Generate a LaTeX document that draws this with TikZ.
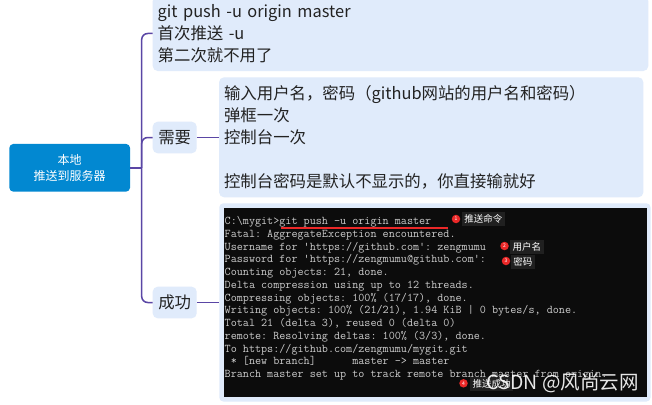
\documentclass[tikz,border=0pt]{standalone}
\usepackage{fontspec}
\setmainfont{Noto Sans CJK SC}
\definecolor{rootblue}{RGB}{2,136,209}
\definecolor{boxblue}{RGB}{224,235,251}
\definecolor{conncol}{RGB}{90,70,165}
\definecolor{txt}{RGB}{34,34,34}
\definecolor{scrbg}{RGB}{12,12,12}
\definecolor{termtxt}{RGB}{204,204,204}
\definecolor{mred}{RGB}{235,40,40}
\definecolor{lblbg}{RGB}{32,32,32}
\begin{document}
\begin{tikzpicture}[x=1pt,y=-1pt,
  box/.style={fill=boxblue, rounded corners=5pt, inner ysep=0pt, text=txt, align=left, font=\fontsize{16.4}{21.9}\selectfont},
  conn/.style={draw=conncol, line width=1.5pt, rounded corners=6pt},
  termline/.style={anchor=base west, inner sep=0pt, text=termtxt, font=\ttfamily\fontsize{11.8}{12.75}\selectfont\frenchspacing},
  marker/.style={circle, fill=mred, minimum size=8.5pt, inner sep=0pt, text=white, font=\fontsize{5}{5}\selectfont},
  lbl/.style={fill=lblbg, text=white, inner xsep=2.5pt, inner ysep=0pt, minimum height=14pt, anchor=west, font=\fontsize{9.5}{9.5}\selectfont}
]
\useasboundingbox (0,0) rectangle (652,404);
\fill[white] (0,0) rectangle (652,404);
\clip (0,0) rectangle (652,404);

\node[fill=rootblue, rounded corners=4pt, text=white, minimum width=120.7pt, minimum height=47.7pt, inner sep=0pt, align=center, font=\fontsize{12}{16}\selectfont] (root) at (69.7,167.8) {本地\\推送到服务器};

\node[box, minimum width=495.6pt, minimum height=75pt, text width=485.6pt, inner xsep=5pt] (top) at (400.5,33.5) {git push -u origin master\\首次推送 -u\\第二次就不用了};

\node[box, minimum width=44pt, minimum height=31.6pt, inner xsep=0pt, align=center] (need) at (174.7,137.5) {需要};

\node[box, minimum width=424.3pt, minimum height=120pt, text width=414.3pt, inner xsep=5pt] (mid) at (431.2,137.3) {输入用户名，密码（github网站的用户名和密码）\\弹框一次\\控制台一次\\\mbox{}\\控制台密码是默认不显示的，你直接输就好};

\node[box, minimum width=44pt, minimum height=31.6pt, inner xsep=0pt, align=center] (succ) at (174.7,302.5) {成功};

\node[fill=boxblue, rounded corners=4pt, minimum width=431.2pt, minimum height=198.2pt, inner sep=0pt] (term) at (434.9,302.4) {};
\node[fill=scrbg, minimum width=422.5pt, minimum height=188.4pt, inner sep=0pt] (screen) at (435.25,302.5) {};

\foreach \t [count=\i] in {
  {C:\textbackslash mygit>git push -u origin master},
  {Fatal: AggregateException encountered.},
  {Username for 'https://github.com': zengmumu},
  {Password for 'https://zengmumu@github.com':},
  {Counting objects: 21, done.},
  {Delta compression using up to 12 threads.},
  {Compressing objects: 100\% (17/17), done.},
  {Writing objects: 100\% (21/21), 1.94 KiB | 0 bytes/s, done.},
  {Total 21 (delta 3), reused 0 (delta 0)},
  {remote: Resolving deltas: 100\% (3/3), done.},
  {To https://github.com/zengmumu/mygit.git},
  {\ * [new branch]\ \ \ \ \ \ master -> master},
  {Branch master set up to track remote branch master from origin.}}
  \node[termline] (tl\i) at (224.5,{211.75+12.75*\i}) {\t};

\coordinate (ulA) at (281,228);
\coordinate (ulB) at (448,228);
\draw[mred, line width=1.6pt] (ulA) -- (ulB);

\node[marker] (m1) at (456,219) {1};
\node[lbl] (l1) at (461.7,219.2) {推送命令};
\node[marker] (m2) at (504.5,246) {2};
\node[lbl] (l2) at (510,246.7) {用户名};
\node[marker] (m3) at (506,261) {3};
\node[lbl] (l3) at (510.7,261.7) {密码};
\node[marker] (m4) at (463.5,383.3) {4};
\node[lbl] (l4) at (470,383.8) {推送成功};

\node[anchor=west, inner sep=0pt, text=white, text opacity=0.9, font=\fontsize{19.5}{19.5}\selectfont] (wm) at (486.7,383.3) {CSDN @风尚云网};

\coordinate (j) at (141.7,167.8);
\draw[conn] (root.east) -- (j);
\draw[conn] (j) |- (top.west);
\draw[conn] (j) |- (need.west);
\draw[conn] (j) |- (succ.west);
\draw[conn] (need.east) -- (need.east -| mid.west);
\draw[conn] (succ.east) -- (succ.east -| term.west);
\end{tikzpicture}
\end{document}
